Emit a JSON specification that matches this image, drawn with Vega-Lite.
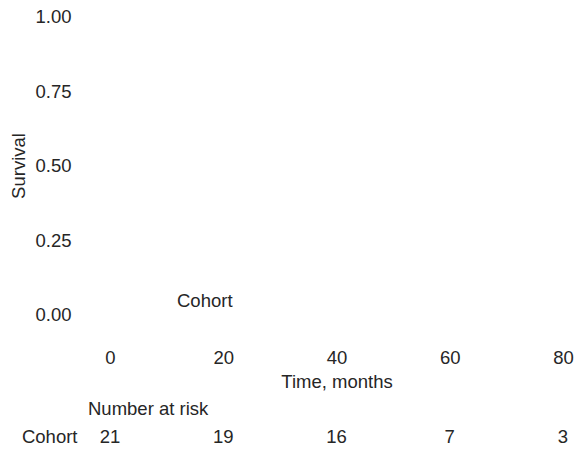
{
  "$schema": "https://vega.github.io/schema/vega-lite/v6.json",
  "background": "white",
  "padding": {"left": 9, "top": 7.5, "right": 0, "bottom": 0},
  "datasets": {
    "risk": [
      {"time": 0, "n": 21, "strata": "Cohort"},
      {"time": 20, "n": 19, "strata": "Cohort"},
      {"time": 40, "n": 16, "strata": "Cohort"},
      {"time": 60, "n": 7, "strata": "Cohort"},
      {"time": 80, "n": 3, "strata": "Cohort"}
    ]
  },
  "config": {
    "font": "Liberation Sans",
    "view": {"stroke": null},
    "axis": {"labelFont": "Liberation Sans", "titleFont": "Liberation Sans", "labelFontSize": 18.5, "titleFontSize": 18.5, "labelColor": "#262626", "titleColor": "#262626", "titleFontWeight": "normal", "domain": false, "ticks": false, "grid": false},
    "legend": {"labelFont": "Liberation Sans", "titleFont": "Liberation Sans", "titleFontSize": 18.5, "titleColor": "#262626", "titleFontWeight": "normal"},
    "title": {"font": "Liberation Sans", "fontSize": 18.5, "color": "#262626", "fontWeight": "normal"}
  },
  "spacing": 8,
  "vconcat": [
    {
      "width": 453,
      "height": 298,
      "data": {"name": "risk"},
      "mark": {"type": "point", "opacity": 0},
      "encoding": {
        "x": {"field": "time", "type": "quantitative", "scale": {"domain": [0, 80], "nice": false, "zero": false}, "axis": {"values": [0, 20, 40, 60, 80], "labelFlush": false, "title": "Time, months", "labelPadding": 33.5, "titlePadding": 6}},
        "y": {"datum": 1, "type": "quantitative", "scale": {"domain": [0, 1], "nice": false}, "axis": {"values": [0, 0.25, 0.5, 0.75, 1], "labelFlush": false, "format": ".2f", "title": "Survival", "labelPadding": 39, "titlePadding": 6}},
        "color": {"field": "strata", "type": "nominal", "scale": {"range": ["#262626"]}, "legend": {"title": "Cohort", "orient": "none", "legendX": 67, "legendY": 275, "symbolOpacity": 0, "labelOpacity": 0, "symbolStrokeWidth": 0}}
      }
    },
    {
      "width": 453,
      "height": 14,
      "title": {"text": "Number at risk", "anchor": "start", "frame": "group", "dx": -22, "offset": 9},
      "data": {"name": "risk"},
      "mark": {"type": "text", "font": "Liberation Sans", "fontSize": 18.5, "color": "#262626"},
      "encoding": {
        "x": {"field": "time", "type": "quantitative", "scale": {"domain": [0, 80], "nice": false, "zero": false}, "axis": null},
        "y": {"field": "strata", "type": "nominal", "axis": {"title": null, "labelPadding": 33}},
        "text": {"field": "n", "type": "quantitative"}
      }
    }
  ]
}
